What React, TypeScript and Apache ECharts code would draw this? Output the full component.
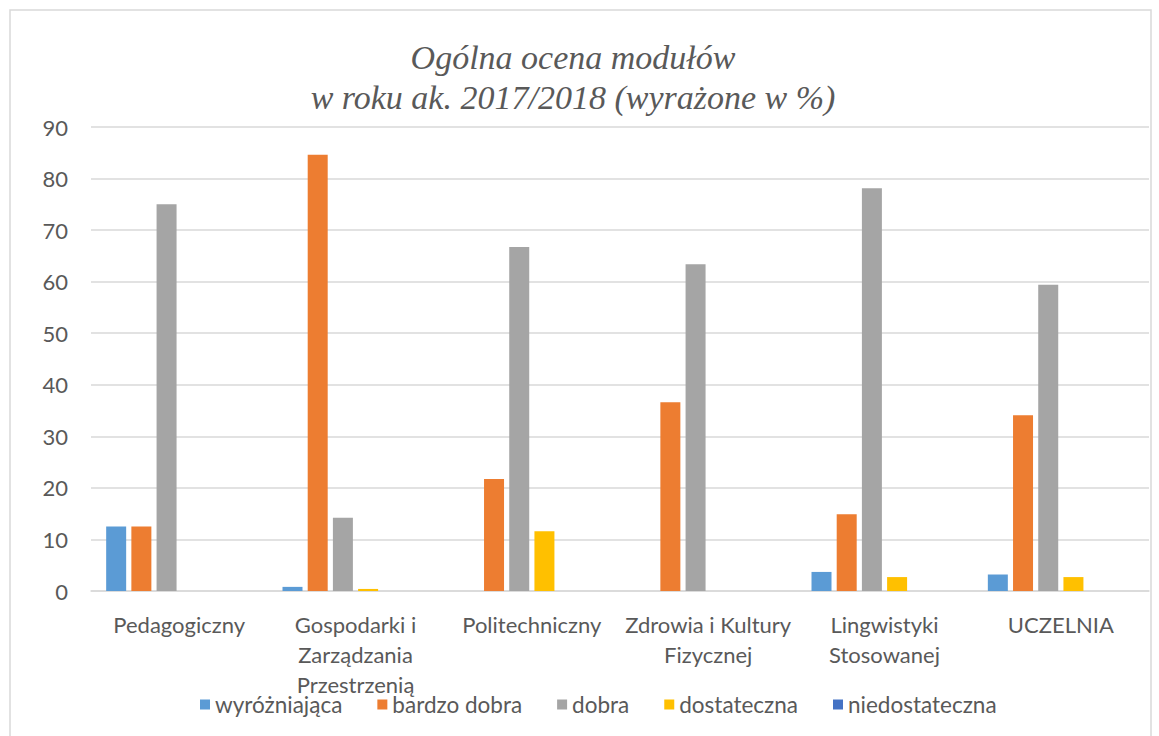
import React, { useEffect, useRef } from "react";
import * as echarts from "echarts";

const categories = [
  "Pedagogiczny",
  "Gospodarki i\nZarządzania\nPrzestrzenią",
  "Politechniczny",
  "Zdrowia i Kultury\nFizycznej",
  "Lingwistyki\nStosowanej",
  "UCZELNIA",
];
const seriesNames = ["wyróżniająca", "bardzo dobra", "dobra", "dostateczna", "niedostateczna"];
const wyrozniajaca = [12.5, 0.8, 0, 0, 3.7, 3.2];
const bardzoDobra = [12.5, 84.6, 21.7, 36.6, 14.9, 34.1];
const dobra = [75.0, 14.2, 66.7, 63.4, 78.1, 59.4];
const dostateczna = [0, 0.4, 11.6, 0, 2.7, 2.7];
const niedostateczna = [0, 0, 0, 0, 0, 0];
const colors = ["#5B9BD5", "#ED7D31", "#A5A5A5", "#FFC000", "#4472C4"];
const titleText = "Ogólna ocena modułów\nw roku ak. 2017/2018 (wyrażone w %)";

export default function App() {
  const ref = useRef<HTMLDivElement>(null);
  useEffect(() => {
    if (!ref.current) return;
    const chart = echarts.init(ref.current, null, { renderer: "svg" });
    const values = [wyrozniajaca, bardzoDobra, dobra, dostateczna, niedostateczna];
    const font = "Lato, 'Liberation Sans', sans-serif";
    const series: any[] = values.map((d, i) => ({
      name: seriesNames[i],
      type: "bar",
      data: d,
      barWidth: 20,
      barGap: "26%",
      itemStyle: { color: colors[i] },
    }));
    // empty slot series (not in legend) keeping the group layout of the original
    series.push({
      name: "_slot",
      type: "bar",
      data: categories.map(() => null),
      barWidth: 20,
      barGap: "26%",
      itemStyle: { color: "transparent" },
    });
    chart.setOption({
      animation: false,
      color: colors,
      title: {
        text: titleText,
        left: 568,
        top: 32,
        textAlign: "center",
        textStyle: {
          fontFamily: "'Liberation Serif', serif",
          fontStyle: "italic",
          fontWeight: "normal",
          fontSize: 34,
          lineHeight: 40,
          color: "#595959",
        },
      },
      legend: {
        data: seriesNames,
        left: 195,
        top: 688,
        icon: "rect",
        itemWidth: 10,
        itemHeight: 10,
        itemGap: 35,
        textStyle: { fontFamily: font, fontSize: 22.5, color: "#595959" },
      },
      grid: { left: 91, right: 10, top: 127, bottom: 145, containLabel: false },
      xAxis: {
        type: "category",
        data: categories,
        axisLine: { lineStyle: { color: "#D9D9D9", width: 1.5 } },
        axisTick: { show: false },
        axisLabel: {
          interval: 0,
          margin: 18,
          fontFamily: font,
          fontSize: 22,
          lineHeight: 30,
          color: "#595959",
        },
      },
      yAxis: {
        type: "value",
        min: 0,
        max: 90,
        interval: 10,
        axisLine: { show: false },
        axisTick: { show: false },
        splitLine: { lineStyle: { color: "#D9D9D9", width: 1.5 } },
        axisLabel: { margin: 23, fontFamily: font, fontSize: 22, color: "#595959" },
      },
      graphic: [
        {
          type: "rect",
          shape: { x: 10, y: 10, width: 1141, height: 740 },
          style: { fill: "none", stroke: "#D9D9D9", lineWidth: 1.5 },
          silent: true,
        },
      ],
      series,
    });
    return () => chart.dispose();
  }, []);
  return (
    <div
      ref={ref}
      style={{ position: "absolute", left: 0, top: 0, width: 1159, height: 736, background: "#fff" }}
    />
  );
}
